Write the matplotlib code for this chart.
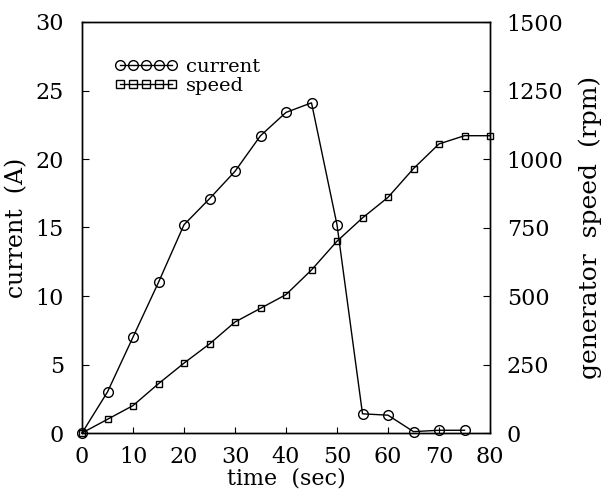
import matplotlib
matplotlib.use("Agg")
import matplotlib.pyplot as plt
from matplotlib.lines import Line2D

# values
time_current = [0, 5, 10, 15, 20, 25, 30, 35, 40, 45, 50, 55, 60, 65, 70, 75]
current = [0, 3.0, 7.0, 11.0, 15.2, 17.1, 19.1, 21.7, 23.4, 24.1, 15.2, 1.4, 1.3, 0.1, 0.2, 0.2]

time_speed = [0, 5, 10, 15, 20, 25, 30, 35, 40, 45, 50, 55, 60, 65, 70, 75, 80]
speed = [0, 50, 100, 180, 255, 325, 405, 455, 505, 595, 700, 785, 860, 965, 1055, 1085, 1085]

x_ticks = [0, 10, 20, 30, 40, 50, 60, 70, 80]
left_ticks = [0, 5, 10, 15, 20, 25, 30]
right_ticks = [0, 250, 500, 750, 1000, 1250, 1500]

plt.rcParams['font.family'] = ['DejaVu Serif']

fig = plt.figure(figsize=(6.08, 4.94), dpi=100)
ax = fig.add_axes([82 / 608, 1 - 433 / 494, 408 / 608, 411 / 494])
ax2 = ax.twinx()

ax.plot(time_current, current, color='black', lw=1.0, marker='o',
        markersize=7, markerfacecolor='none', markeredgewidth=1.0,
        clip_on=False, zorder=3)
ax2.plot(time_speed, speed, color='black', lw=1.0, marker='s',
         markersize=5, markerfacecolor='none', markeredgewidth=1.0,
         clip_on=False, zorder=3)

ax.set_xlim(0, 80)
ax.set_ylim(0, 30)
ax2.set_ylim(0, 1500)
ax.set_xticks(x_ticks)
ax.set_yticks(left_ticks)
ax2.set_yticks(right_ticks)

ax.tick_params(axis='y', direction='in', length=5, labelsize=16, pad=13)
ax.tick_params(axis='x', direction='in', length=4, labelsize=16, pad=9, top=False)
ax2.tick_params(axis='y', direction='in', length=5, labelsize=16, pad=12)

ax.set_xlabel('time  (sec)', fontsize=16, labelpad=0)
ax.set_ylabel('current  (A)', fontsize=17, labelpad=5)
ax2.set_ylabel('generator  speed  (rpm)', fontsize=18, labelpad=11)

for a in (ax, ax2):
    for s in a.spines.values():
        s.set_linewidth(1.0)

# legend handles, marker sizes as in the picture
h_cur = Line2D([], [], color='black', lw=1.0, marker='o', markersize=7,
               markerfacecolor='none', markeredgewidth=1.0)
h_spd = Line2D([], [], color='black', lw=1.0, marker='s', markersize=6,
               markerfacecolor='none', markeredgewidth=1.0)
ax.legend([h_cur, h_spd], ['current', 'speed'], loc='upper left', numpoints=5,
          handlelength=3.3, frameon=False, fontsize=14,
          labelspacing=0.05, handletextpad=0.4, borderaxespad=0,
          bbox_to_anchor=(24 / 408, 1 - 28 / 411))

fig.savefig('out.png', dpi=100)
